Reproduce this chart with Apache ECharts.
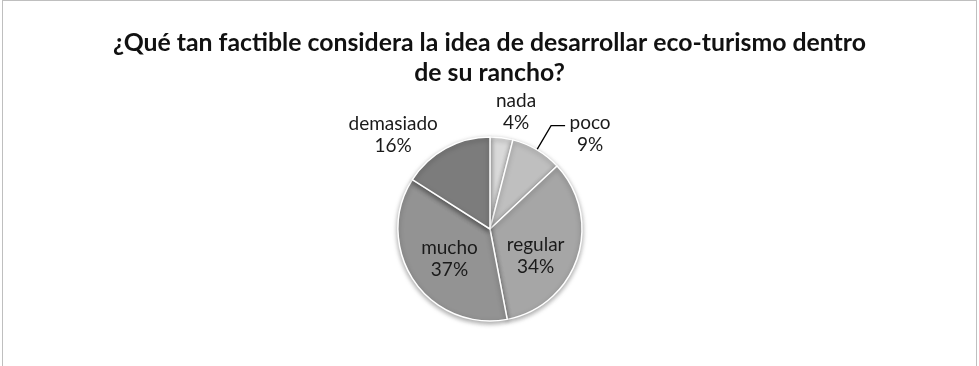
<!DOCTYPE html>
<html>
<head>
<meta charset="utf-8">
<script src="https://cdn.jsdelivr.net/npm/echarts@6/dist/echarts.min.js"></script>
<style>
  html, body { margin: 0; padding: 0; background: #fff; }
  #frame { position: absolute; left: 2px; top: 0; width: 975px; height: 380px; border: 1px solid #bfbfbf; box-sizing: border-box; }
  #chart { width: 979px; height: 366px; position: absolute; left: 0; top: 0; }
</style>
</head>
<body>
<div id="frame"></div>
<div id="chart"></div>
<script>
// Survey answers and their shares (percent)
const categories = ['nada', 'poco', 'regular', 'mucho', 'demasiado'];
const shares = [4, 9, 34, 37, 16];
const sliceColors = ['#d9d9d9', '#bfbfbf', '#a6a6a6', '#939393', '#7c7c7c'];
const insideLabels = ['regular', 'mucho'];
const lineLabels = ['poco'];
// nudges applied to each label after the pie has placed it
const labelNudge = [[-8, 2], [20, 7.7], [-1, 12], [0, 2], [-20, 11]];

const chart = echarts.init(document.getElementById('chart'), null, { renderer: 'canvas' });
const textFont = 'Lato, Open Sans, sans-serif';

const data = categories.map((name, i) => {
  const inside = insideLabels.includes(name);
  return {
    name,
    value: shares[i],
    itemStyle: { color: sliceColors[i] },
    label: inside ? { position: 'inside', distance: 0.45 } : { position: 'outside' },
    labelLine: { show: lineLabels.includes(name) }
  };
});

chart.setOption({
  animation: false,
  title: {
    text: '¿Qué tan factible considera la idea de desarrollar eco-turismo dentro\nde su rancho?',
    left: 'center',
    top: 23,
    padding: [5, 5, 5, 13],
    textStyle: { fontFamily: textFont, fontSize: 24.8, fontWeight: 'bold', color: '#111', lineHeight: 30 }
  },
  series: [{
    type: 'pie',
    center: [490, 229],
    radius: 92,
    startAngle: 90,
    clockwise: true,
    avoidLabelOverlap: false,
    data,
    itemStyle: {
      borderColor: '#fff',
      borderWidth: 1.5,
      shadowColor: 'rgba(0,0,0,0.35)',
      shadowBlur: 5,
      shadowOffsetY: 2
    },
    label: {
      formatter: '{b}\n{d}%',
      fontFamily: textFont,
      fontSize: 19,
      lineHeight: 22,
      color: '#1a1a1a'
    },
    labelLine: {
      length: 28,
      length2: 14,
      lineStyle: { color: '#000', width: 1.3 }
    },
    labelLayout: (params) => {
      const [dx, dy] = labelNudge[params.dataIndex];
      return { align: 'center', dx, dy };
    }
  }]
});
</script>
</body>
</html>
